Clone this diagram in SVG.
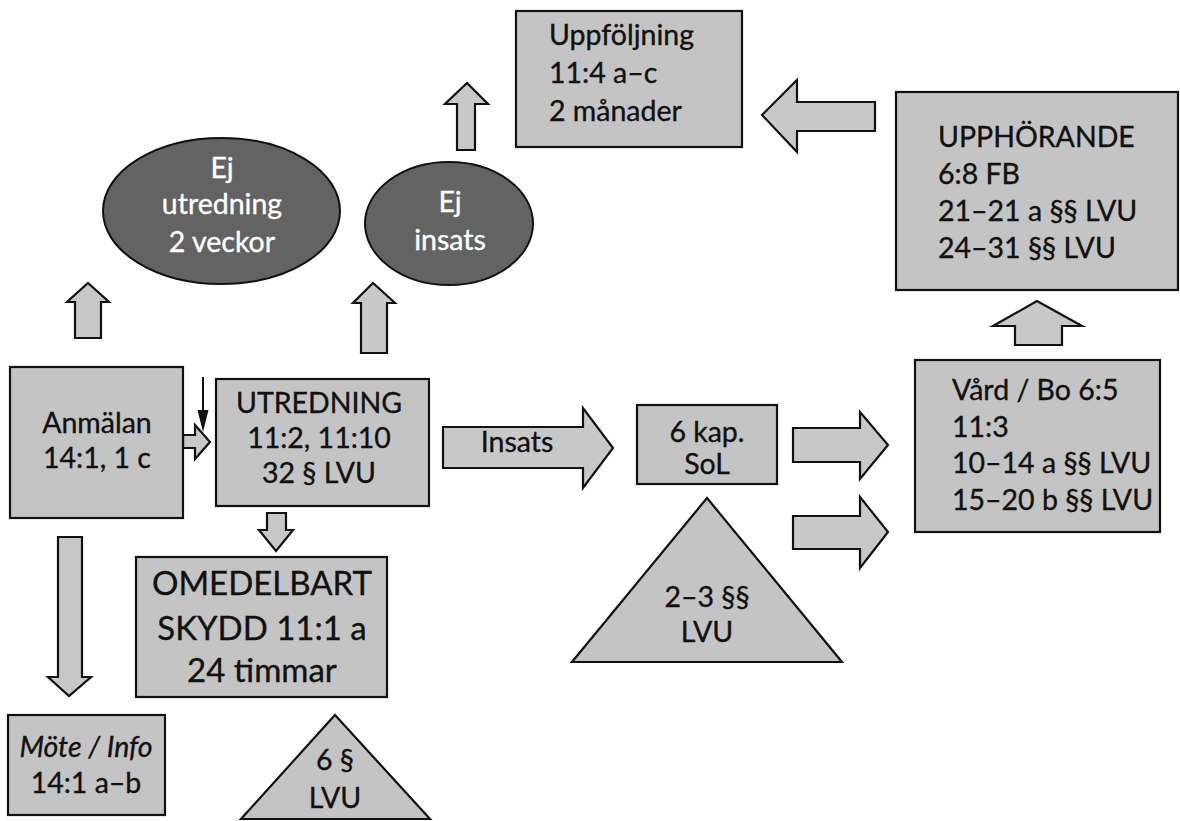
<svg xmlns="http://www.w3.org/2000/svg" width="1180" height="821" viewBox="0 0 1180 821">
<defs>
<style>
.box{fill:#c4c4c4;stroke:#111;stroke-width:2.2}
.dark{fill:#636363;stroke:#111;stroke-width:2}
.arr{fill:#c8c8c8;stroke:#111;stroke-width:2.2;stroke-linejoin:miter}
.t{font-family:Lato,"Open Sans","Liberation Sans",sans-serif;font-size:28.5px;fill:#111;stroke:#111;stroke-width:0.35}
.w{fill:#fff;stroke:#fff}
.c{text-anchor:middle}
.big{font-size:33px}
.i{font-style:italic}
</style>
</defs>
<rect width="1180" height="821" fill="#fff"/>

<g id="connectors">
<polygon class="arr" points="443,427 583,427 583,408 613,448 583,488 583,468 443,468"/>
<text class="t c" x="517" y="452">Insats</text>
<polygon class="arr" points="793,428 860,428 860,412 888,445 860,479 860,462 793,462"/>
<polygon class="arr" points="793,516 860,516 860,497 888,532 860,568 860,549 793,549"/>
<polygon class="arr" points="1015,345 1015,326 993,326 1037,301 1082,326 1062,326 1062,345"/>
<polygon class="arr" points="875,102 797,102 797,80 762,115 797,152 797,131 875,131"/>
<polygon class="arr" points="457,150 457,104 445,104 467,83 488,104 475,104 475,150"/>
<polygon class="arr" points="75,338 75,302 67,302 88,283 109,302 101,302 101,338"/>
<polygon class="arr" points="361,353 361,303 353,303 373,283 395,303 387,303 387,353"/>
<polygon class="arr" points="183,435 195,435 195,425 210,442 195,459 195,448 183,448"/>
<line x1="203" y1="377" x2="203" y2="412" stroke="#111" stroke-width="2"/>
<polygon points="197.5,410 208.5,410 203,432" fill="#111"/>
<polygon class="arr" points="267,513 286,513 286,530 293,530 276,551 259,530 267,530"/>
<polygon class="arr" points="58,537 82,537 82,677 91,677 69,696 48,677 58,677"/>
</g>

<g id="uppfoljning">
<rect class="box" x="516" y="11" width="226" height="136"/>
<text class="t" x="549" y="45">Uppföljning</text>
<text class="t" x="549" y="83">11:4 a–c</text>
<text class="t" x="549" y="121">2 månader</text>
</g>

<g id="upphorande">
<rect class="box" x="896" y="92" width="282" height="198"/>
<text class="t" x="938" y="147">UPPHÖRANDE</text>
<text class="t" x="938" y="184">6:8 FB</text>
<text class="t" x="938" y="221">21–21 a §§ LVU</text>
<text class="t" x="938" y="258">24–31 §§ LVU</text>
</g>

<g id="ej-utredning">
<ellipse class="dark" cx="221.5" cy="211" rx="118.5" ry="73"/>
<text class="t c w" x="222" y="178">Ej</text>
<text class="t c w" x="222" y="214">utredning</text>
<text class="t c w" x="222" y="252">2 veckor</text>
</g>

<g id="ej-insats">
<ellipse class="dark" cx="449" cy="223.5" rx="84" ry="61.5"/>
<text class="t c w" x="450" y="212">Ej</text>
<text class="t c w" x="450" y="250">insats</text>
</g>

<g id="anmalan">
<rect class="box" x="10" y="367" width="173" height="151"/>
<text class="t c" x="97" y="433">Anmälan</text>
<text class="t c" x="97" y="468">14:1, 1 c</text>
</g>

<g id="utredning">
<rect class="box" x="216" y="379" width="213" height="127"/>
<text class="t c" x="319" y="413">UTREDNING</text>
<text class="t c" x="319" y="448">11:2, 11:10</text>
<text class="t c" x="319" y="483">32 § LVU</text>
</g>

<g id="omedelbart">
<rect class="box" x="136" y="557" width="251" height="140"/>
<text class="t c big" x="262" y="595">OMEDELBART</text>
<text class="t c big" x="262" y="640">SKYDD 11:1 a</text>
<text class="t c big" x="262" y="682">24 timmar</text>
</g>

<g id="mote-info">
<rect class="box" x="8" y="715" width="157" height="100"/>
<text class="t c i" x="86" y="757">Möte / Info</text>
<text class="t c" x="86" y="793">14:1 a–b</text>
</g>

<g id="lvu6">
<polygon class="box" points="335,715 430,819 241,819"/>
<text class="t c" x="335" y="770">6 §</text>
<text class="t c" x="335" y="808">LVU</text>
</g>

<g id="sol6">
<rect class="box" x="637" y="405" width="140" height="79"/>
<text class="t c" x="707" y="442">6 kap.</text>
<text class="t c" x="707" y="474">SoL</text>
</g>

<g id="lvu23">
<polygon class="box" points="707,498 842,662 572,662"/>
<text class="t c" x="707" y="607">2–3 §§</text>
<text class="t c" x="707" y="642">LVU</text>
</g>

<g id="vard">
<rect class="box" x="915" y="360" width="245" height="172"/>
<text class="t" x="952" y="400">Vård / Bo 6:5</text>
<text class="t" x="952" y="437">11:3</text>
<text class="t" x="952" y="473">10–14 a §§ LVU</text>
<text class="t" x="952" y="510">15–20 b §§ LVU</text>
</g>
</svg>
